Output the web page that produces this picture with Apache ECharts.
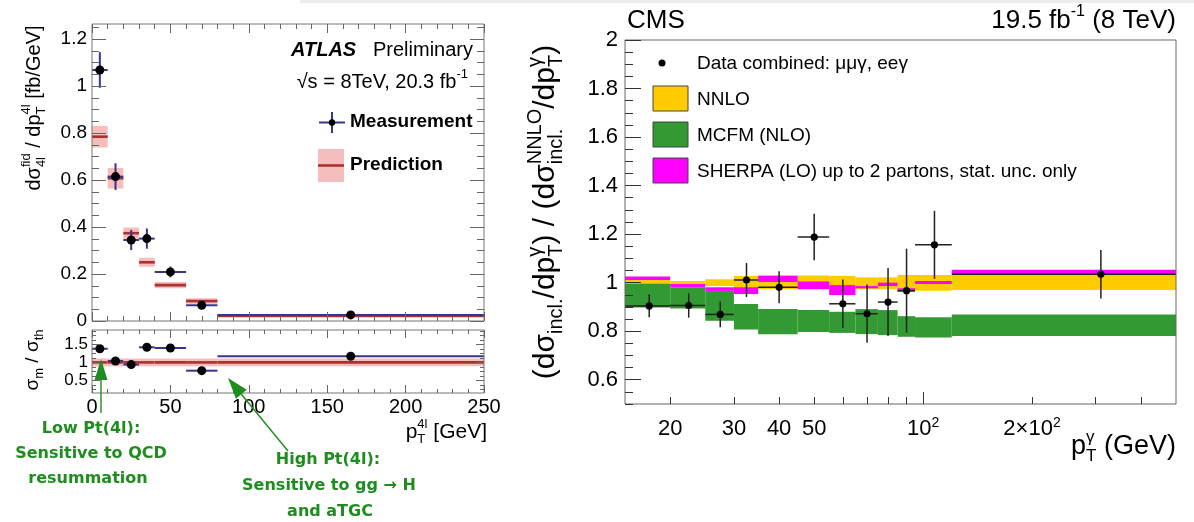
<!DOCTYPE html>
<html><head><meta charset="utf-8">
<script src="https://cdn.jsdelivr.net/npm/echarts@6/dist/echarts.min.js"></script>
<style>html,body{margin:0;padding:0;background:#fff;}#c{width:1194px;height:522px;}</style>
</head><body><div id="c"></div>
<script>
// ================= DATA =================
// ATLAS: pT(4l) differential cross section
const atlasEdges   = [0, 10, 20, 30, 40, 60, 80, 250];
const atlasMeasX   = [5, 15, 25, 35, 50, 70, 165];
const atlasMeas    = [1.069, 0.615, 0.345, 0.351, 0.209, 0.067, 0.026];
const atlasMeasErr = [0.076, 0.057, 0.043, 0.043, 0.023, 0.009, 0.004];
const atlasPred    = [0.785, 0.608, 0.374, 0.250, 0.153, 0.085, 0.022];
const atlasPredErr = [0.046, 0.044, 0.024, 0.019, 0.013, 0.012, 0.003];
const atlasRatio    = [1.38, 1.04, 0.94, 1.42, 1.40, 0.77, 1.17];
const atlasRatioErr = [0.06, 0.05, 0.05, 0.07, 0.06, 0.09, 0.09];
const atlasRatioBandErr = [0.11, 0.11, 0.11, 0.11, 0.11, 0.11, 0.11];
const atlasXTicks = [0, 50, 100, 150, 200, 250];
const atlasYTicks = [0, 0.2, 0.4, 0.6, 0.8, 1, 1.2];
const ratioYLabels = [0.5, 1, 1.5];

// CMS: ratio to NNLO vs photon pT
const cmsEdges = [15, 20, 25, 30, 35, 45, 55, 65, 75, 85, 95, 120, 500];
const cmsX     = [17.5, 22.5, 27.5, 32.5, 40, 50, 60, 70, 80, 90, 107.5, 310];
const cmsData  = [0.904, 0.906, 0.869, 1.011, 0.981, 1.188, 0.913, 0.872, 0.920, 0.967, 1.156, 1.035];
const cmsErr   = [0.047, 0.050, 0.053, 0.070, 0.066, 0.096, 0.100, 0.120, 0.140, 0.173, 0.140, 0.100];
const nnloLo   = [0.997, 0.995, 0.986, 0.977, 0.973, 0.978, 0.989, 0.973, 0.973, 0.963, 0.967, 0.970];
const nnloHi   = [1.011, 1.007, 1.014, 1.028, 1.030, 1.030, 1.028, 1.022, 1.022, 1.032, 1.032, 1.032];
const mcfmLo   = [0.898, 0.894, 0.843, 0.807, 0.787, 0.797, 0.793, 0.788, 0.784, 0.777, 0.774, 0.780];
const mcfmHi   = [0.998, 0.981, 0.966, 0.912, 0.891, 0.887, 0.880, 0.891, 0.887, 0.862, 0.857, 0.869];
const sherpaLo = [1.011, 0.981, 0.966, 0.953, 1.003, 0.973, 0.949, 0.977, 0.986, 0.963, 0.995, 1.032];
const sherpaHi = [1.025, 0.995, 0.981, 0.981, 1.028, 1.005, 0.990, 0.986, 1.000, 0.977, 1.007, 1.053];
const cmsYTicks   = [0.6, 0.8, 1, 1.2, 1.4, 1.6, 1.8, 2];
const cmsXLabels  = [20, 30, 40, 50, 100, 200];
const cmsXShortTicks = [20, 30, 40, 50, 60, 70, 80, 90, 200, 300, 400];
const cmsXLongTicks  = [100];

// ================= STYLE =================
const FONT = '"Liberation Sans", Arial, Helvetica, sans-serif';
const NAVY = '#36368e';
const PRED_RED = '#a8322e';
const PRED_PINK = '#f6bdbd';
const GREEN_TXT = '#1e8c1e';
const C_NNLO = '#ffcc00', C_MCFM = '#339933', C_SHERPA = '#ff00ff';

const lg = Math.log10;
const range = (a, b, s) => { const r = []; for (let k = 0; a + k * s <= b + 1e-9; k++) r.push(+(a + k * s).toFixed(6)); return r; };
const fmtNum = v => String(+(+v).toFixed(3));

// ================= AXES =================
const xAxes = [], yAxes = [];
function ax(list, o) {
  const a = {
    type: 'value', gridIndex: o.g, position: o.pos, min: o.min, max: o.max, z: 5,
    axisLine: { show: false, onZero: false },
    splitLine: { show: false },
    axisTick: o.ticks ? { show: true, inside: true, length: o.len, customValues: o.ticks,
                lineStyle: { color: o.col || '#555', width: 1 } } : { show: false },
    axisLabel: { show: false }
  };
  if (o.labels) {
    a.axisLabel = { show: true, customValues: o.labels, formatter: o.fmt || fmtNum, color: '#000',
      fontFamily: FONT, fontSize: o.fs, margin: o.margin, showMinLabel: true, showMaxLabel: true, hideOverlap: false };
    if (o.rich) a.axisLabel.rich = o.rich;
  }
  list.push(a);
  return list.length - 1;
}
// ATLAS main (grid 0)
const aYmax = 1.265;
const aMx = ax(xAxes, { g: 0, pos: 'bottom', min: 0, max: 250, ticks: atlasXTicks, len: 9, col: '#666' });
ax(xAxes, { g: 0, pos: 'bottom', min: 0, max: 250, ticks: range(0, 250, 10), len: 5, col: '#666' });
ax(xAxes, { g: 0, pos: 'top', min: 0, max: 250, ticks: atlasXTicks, len: 9, col: '#666' });
ax(xAxes, { g: 0, pos: 'top', min: 0, max: 250, ticks: range(0, 250, 10), len: 5, col: '#666' });
const aMy = ax(yAxes, { g: 0, pos: 'left', min: 0, max: aYmax, ticks: atlasYTicks, len: 14, col: '#666',
  labels: atlasYTicks, fs: 19, margin: 5 });
ax(yAxes, { g: 0, pos: 'left', min: 0, max: aYmax, ticks: range(0, 1.25, 0.05), len: 7, col: '#666' });
ax(yAxes, { g: 0, pos: 'right', min: 0, max: aYmax, ticks: atlasYTicks, len: 14, col: '#666' });
ax(yAxes, { g: 0, pos: 'right', min: 0, max: aYmax, ticks: range(0, 1.25, 0.05), len: 7, col: '#666' });
// ATLAS ratio (grid 1)
const rYmin = 0.15, rYmax = 1.9;
const rX = ax(xAxes, { g: 1, pos: 'bottom', min: 0, max: 250, ticks: atlasXTicks, len: 8, col: '#666',
  labels: atlasXTicks, fs: 20, margin: 4 });
ax(xAxes, { g: 1, pos: 'bottom', min: 0, max: 250, ticks: range(0, 250, 10), len: 4, col: '#666' });
ax(xAxes, { g: 1, pos: 'top', min: 0, max: 250, ticks: atlasXTicks, len: 8, col: '#666' });
ax(xAxes, { g: 1, pos: 'top', min: 0, max: 250, ticks: range(0, 250, 10), len: 4, col: '#666' });
const rY = ax(yAxes, { g: 1, pos: 'left', min: rYmin, max: rYmax, ticks: ratioYLabels, len: 8, col: '#666' });
// one label per axis so the closely spaced ratio labels are never thinned out
ratioYLabels.forEach(v => ax(yAxes, { g: 1, pos: 'left', min: rYmin, max: rYmax, labels: [v], fs: 17, margin: 4 }));
ax(yAxes, { g: 1, pos: 'left', min: rYmin, max: rYmax, ticks: range(0.25, 1.875, 0.125), len: 4, col: '#666' });
ax(yAxes, { g: 1, pos: 'right', min: rYmin, max: rYmax, ticks: ratioYLabels, len: 8, col: '#666' });
ax(yAxes, { g: 1, pos: 'right', min: rYmin, max: rYmax, ticks: range(0.25, 1.875, 0.125), len: 4, col: '#666' });
// CMS (grid 2), x on log10 scale
const cX = ax(xAxes, { g: 2, pos: 'bottom', min: lg(15), max: lg(500), ticks: cmsXShortTicks.map(lg), len: 7, col: '#333',
  labels: cmsXLabels.map(lg), fs: 22, margin: 12,
  fmt: v => { const n = Math.round(Math.pow(10, v)); if (n === 100) return '{a|10}{s|2}'; if (n === 200) return '{a|2×10}{s|2}'; return '{a|' + n + '}'; },
  rich: { a: { fontSize: 22, fontFamily: FONT, color: '#000', lineHeight: 26 },
          s: { fontSize: 14, fontFamily: FONT, color: '#000', lineHeight: 14, verticalAlign: 'top' } } });
ax(xAxes, { g: 2, pos: 'bottom', min: lg(15), max: lg(500), ticks: cmsXLongTicks.map(lg), len: 12, col: '#333' });
const cY = ax(yAxes, { g: 2, pos: 'left', min: 0.5, max: 2, ticks: cmsYTicks, len: 16, col: '#333',
  labels: cmsYTicks, fs: 22, margin: 7 });
ax(yAxes, { g: 2, pos: 'left', min: 0.5, max: 2, ticks: range(0.5, 2, 0.05), len: 8, col: '#333' });

// ================= SERIES =================
function bandSeries(xi, yi, rows, fill, stroke, lw, z) {
  return { type: 'custom', xAxisIndex: xi, yAxisIndex: yi, silent: true, z: z, data: rows,
    renderItem(p, api) {
      const a = api.coord([api.value(0), api.value(3)]), b = api.coord([api.value(1), api.value(2)]);
      const ch = [{ type: 'rect', shape: { x: a[0], y: a[1], width: b[0] - a[0], height: b[1] - a[1] }, style: { fill } }];
      if (stroke) {
        const l = api.coord([api.value(0), api.value(4)]), r = api.coord([api.value(1), api.value(4)]);
        ch.push({ type: 'line', shape: { x1: l[0], y1: l[1], x2: r[0], y2: r[1] }, style: { stroke, lineWidth: lw } });
      }
      return { type: 'group', children: ch };
    } };
}
function pointSeries(xi, yi, rows, color, rad, lw, z) {
  return { type: 'custom', xAxisIndex: xi, yAxisIndex: yi, silent: true, z: z, data: rows,
    renderItem(p, api) {
      const x = api.value(0), y = api.value(1), e = api.value(4);
      const c = api.coord([x, y]), a = api.coord([api.value(2), y]), b = api.coord([api.value(3), y]);
      const t = api.coord([x, y + e]), d = api.coord([x, y - e]);
      return { type: 'group', children: [
        { type: 'line', shape: { x1: a[0], y1: a[1], x2: b[0], y2: b[1] }, style: { stroke: color, lineWidth: lw } },
        { type: 'line', shape: { x1: t[0], y1: t[1], x2: d[0], y2: d[1] }, style: { stroke: color, lineWidth: lw } },
        { type: 'circle', shape: { cx: c[0], cy: c[1], r: rad }, style: { fill: '#000' } }
      ] };
    } };
}
const series = [];
// ATLAS main
series.push(bandSeries(aMx, aMy, atlasPred.map((v, i) => [atlasEdges[i], atlasEdges[i + 1], v - atlasPredErr[i], v + atlasPredErr[i], v]), PRED_PINK, PRED_RED, 2.6, 2));
series.push(pointSeries(aMx, aMy, atlasMeas.map((v, i) => [atlasMeasX[i], v, atlasEdges[i], atlasEdges[i + 1], atlasMeasErr[i]]), NAVY, 4.5, 2, 3));
// ATLAS ratio
series.push(bandSeries(rX, rY, atlasRatioBandErr.map((e, i) => [atlasEdges[i], atlasEdges[i + 1], 1 - e, 1 + e, 1]), PRED_PINK, PRED_RED, 2.6, 2));
series.push(pointSeries(rX, rY, atlasRatio.map((v, i) => [atlasMeasX[i], v, atlasEdges[i], atlasEdges[i + 1], atlasRatioErr[i]]), NAVY, 4.5, 2, 3));
// CMS
const cmsRows = (lo, hi) => lo.map((l, i) => [lg(cmsEdges[i]), lg(cmsEdges[i + 1]), l, hi[i], (l + hi[i]) / 2]);
series.push(bandSeries(cX, cY, cmsRows(mcfmLo, mcfmHi), C_MCFM, null, 0, 2));
series.push(bandSeries(cX, cY, cmsRows(nnloLo, nnloHi), C_NNLO, null, 0, 2));
series.push(bandSeries(cX, cY, cmsRows(sherpaLo, sherpaHi), C_SHERPA, null, 0, 2));
series.push(pointSeries(cX, cY, cmsData.map((v, i) => [lg(cmsX[i]), v, lg(cmsEdges[i]), lg(cmsEdges[i + 1]), cmsErr[i]]), '#222', 3.6, 1.5, 3));

// ================= TEXT HELPERS =================
const mctx = document.createElement('canvas').getContext('2d');
function mathText(parts, o) {
  let x = 0, prevStart = 0;
  const children = [];
  parts.forEach(p => {
    const w8 = p.w || 'normal', st = p.it ? 'italic' : 'normal';
    mctx.font = `${st} ${w8} ${p.s}px ${FONT}`;
    const w = mctx.measureText(p.t).width;
    let px;
    if (p.stack) { px = prevStart; x = Math.max(x, prevStart + w); }
    else { px = x; prevStart = x; x += w; }
    children.push({ type: 'text', x: px, y: p.dy || 0, silent: true,
      style: { text: p.t, fontSize: p.s, fontFamily: FONT, fontWeight: w8, fontStyle: st,
               fill: o.color || '#000', align: 'left', verticalAlign: 'middle' } });
  });
  const shift = o.align === 'right' ? -x : o.align === 'center' ? -x / 2 : 0;
  children.forEach(c => { c.x += shift; });
  return { type: 'group', x: o.x, y: o.y, rotation: o.rot || 0, z: 10, children };
}
const sup = (t, M, S) => ({ t, s: S, dy: -0.36 * M });
const sub = (t, M, S) => ({ t, s: S, dy: 0.36 * M });
const txt = (t, x, y, size, extra) => Object.assign({ type: 'text', x, y, z: 10, silent: true,
  style: Object.assign({ text: t, fontSize: size, fontFamily: FONT, fill: '#000', align: 'left', verticalAlign: 'middle' }, extra || {}) });

const graphic = [];
graphic.push({ type: 'rect', shape: { x: 300, y: 0, width: 894, height: 3 }, style: { fill: '#ececec' }, z: 0 });
// ATLAS titles
{
  const M = 20, S = 13;
  graphic.push(mathText([
    { t: 'dσ', s: M }, sup('fid', M, S), Object.assign(sub('4l', M, S), { stack: true }),
    { t: ' / dp', s: M }, sub('T', M, S), Object.assign(sup('4l', M, S), { stack: true }),
    { t: ' [fb/GeV]', s: M }
  ], { x: 34, y: 108, rot: Math.PI / 2, align: 'center' }));
  graphic.push(mathText([
    { t: 'σ', s: 19 }, sub('m', 19, 13), { t: ' / σ', s: 19 }, sub('th', 19, 13)
  ], { x: 33, y: 360, rot: Math.PI / 2, align: 'center' }));
  graphic.push(mathText([
    { t: 'p', s: 21 }, sub('T', 21, 13), Object.assign(sup('4l', 21, 13), { stack: true }), { t: ' [GeV]', s: 21 }
  ], { x: 487, y: 432, align: 'right' }));
}
// ATLAS labels & legend
graphic.push(txt('ATLAS', 291, 50, 20, { fontWeight: 'bold', fontStyle: 'italic' }));
graphic.push(txt('Preliminary', 373, 50, 20));
graphic.push(mathText([{ t: '√s = 8TeV, 20.3 fb', s: 20 }, sup('-1', 20, 13)], { x: 468, y: 82, align: 'right' }));
graphic.push({ type: 'line', z: 10, shape: { x1: 319, y1: 122.5, x2: 345, y2: 122.5 }, style: { stroke: NAVY, lineWidth: 2 } });
graphic.push({ type: 'line', z: 10, shape: { x1: 332, y1: 112, x2: 332, y2: 133 }, style: { stroke: NAVY, lineWidth: 2 } });
graphic.push({ type: 'circle', z: 11, shape: { cx: 332, cy: 122.5, r: 3.2 }, style: { fill: '#000' } });
graphic.push(txt('Measurement', 350, 122, 19, { fontWeight: 'bold' }));
graphic.push({ type: 'rect', z: 10, shape: { x: 318, y: 149, width: 26, height: 33 }, style: { fill: PRED_PINK } });
graphic.push({ type: 'line', z: 11, shape: { x1: 318, y1: 165.5, x2: 344, y2: 165.5 }, style: { stroke: PRED_RED, lineWidth: 2.6 } });
graphic.push(txt('Prediction', 350, 165, 19, { fontWeight: 'bold' }));
// Green annotations
const gfont = { fontWeight: 'bold', fill: GREEN_TXT, align: 'center', fontFamily: '"DejaVu Sans", sans-serif' };
[['Low Pt(4l):', 91, 429], ['Sensitive to QCD', 91, 454], ['resummation', 88, 479],
 ['High Pt(4l):', 328, 460], ['Sensitive to gg → H', 329, 486], ['and aTGC', 330, 512]]
  .forEach(([t, x, y]) => graphic.push(txt(t, x, y, 16, gfont)));
function arrow(tail, tip, head, half) {
  const dx = tip[0] - tail[0], dy = tip[1] - tail[1], L = Math.hypot(dx, dy), ux = dx / L, uy = dy / L;
  const bx = tip[0] - ux * head, by = tip[1] - uy * head, px = -uy * half, py = ux * half;
  graphic.push({ type: 'line', z: 10, shape: { x1: tail[0], y1: tail[1], x2: bx, y2: by }, style: { stroke: GREEN_TXT, lineWidth: 1.4 } });
  graphic.push({ type: 'polygon', z: 10, shape: { points: [tip, [bx + px, by + py], [bx - px, by - py]] }, style: { fill: GREEN_TXT } });
}
arrow([101, 413], [101, 359], 21, 6.5);
arrow([288, 451], [228, 378], 21, 7);

// CMS texts
graphic.push(txt('CMS', 627, 21, 26));
graphic.push(mathText([{ t: '19.5 fb', s: 26 }, sup('-1', 26, 16), { t: ' (8 TeV)', s: 26 }], { x: 1176, y: 21, align: 'right' }));
{
  const M = 30, S = 20;
  graphic.push(mathText([
    { t: '(dσ', s: M }, sub('incl.', M, S), { t: '/dp', s: M }, sub('T', M, S), Object.assign(sup('γ', M, S), { stack: true }),
    { t: ') / (dσ', s: M }, sub('incl.', M, S), Object.assign(sup('NNLO', M, S), { stack: true }),
    { t: '/dp', s: M }, sub('T', M, S), Object.assign(sup('γ', M, S), { stack: true }), { t: ')', s: M }
  ], { x: 546, y: 212, rot: Math.PI / 2, align: 'center' }));
  graphic.push(mathText([
    { t: 'p', s: 27 }, sub('T', 27, 17), Object.assign(sup('γ', 27, 17), { stack: true }), { t: ' (GeV)', s: 27 }
  ], { x: 1176, y: 447, align: 'right' }));
}
// CMS legend
graphic.push({ type: 'circle', z: 10, shape: { cx: 662, cy: 63, r: 3.5 }, style: { fill: '#000' } });
graphic.push(txt('Data combined: μμγ, eeγ', 697, 64, 19));
[[C_NNLO, 86, 'NNLO', 100], [C_MCFM, 122, 'MCFM (NLO)', 136], [C_SHERPA, 158, 'SHERPA (LO) up to 2 partons, stat. unc. only', 172]]
  .forEach(([c, y, t, ty]) => {
    graphic.push({ type: 'rect', z: 10, shape: { x: 653, y, width: 35, height: 25 }, style: { fill: c, stroke: '#444', lineWidth: 1 } });
    graphic.push(txt(t, 697, ty, 19));
  });

// ================= CHART =================
const chart = echarts.init(document.getElementById('c'), null, { renderer: 'canvas' });
chart.setOption({
  animation: false,
  backgroundColor: '#fff',
  grid: [
    { left: 92, top: 24, width: 392, height: 297, show: true, borderColor: '#777', borderWidth: 1, z: 4 },
    { left: 92, top: 330, width: 392, height: 63, show: true, borderColor: '#777', borderWidth: 1, z: 4 },
    { left: 625, top: 40, width: 551, height: 364, show: true, borderColor: '#666', borderWidth: 1, z: 4 }
  ],
  xAxis: xAxes,
  yAxis: yAxes,
  series,
  graphic
});
</script></body></html>
